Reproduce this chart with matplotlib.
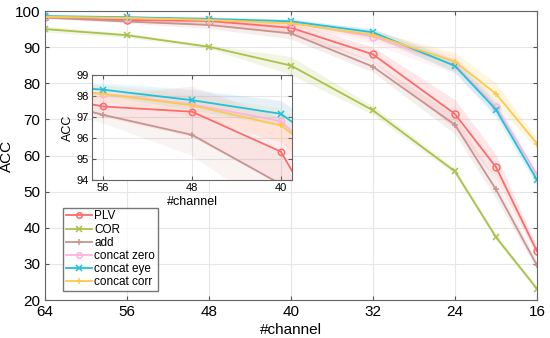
import numpy as np
import matplotlib.pyplot as plt

plt.rcParams['font.family'] = ['Liberation Sans', 'DejaVu Sans']

# data
channels = [64, 56, 48, 40, 32, 24, 20, 16]

plv = [98.3, 97.5, 97.25, 95.35, 88.0, 71.5, 56.8, 33.5]
cor = [95.0, 93.3, 90.1, 84.9, 72.5, 55.6, 37.4, 23.1]
add = [98.2, 97.1, 96.15, 93.8, 84.6, 68.5, 50.6, 29.6]
concat_zero = [98.5, 98.1, 97.6, 96.8, 92.9, 85.1, 73.4, 54.7]
concat_eye = [98.6, 98.3, 97.8, 97.15, 94.1, 84.8, 72.7, 53.3]
concat_corr = [98.4, 98.1, 97.55, 96.6, 93.4, 86.0, 77.1, 63.3]

plv_std = [0.3, 0.5, 1.2, 1.6, 2.0, 4.0, 3.5, 1.2]
cor_std = [0.8, 0.6, 0.5, 2.5, 1.2, 0.8, 0.8, 0.6]
add_std = [0.3, 0.4, 1.0, 1.5, 1.5, 2.5, 2.5, 1.0]
zero_std = [0.3, 0.4, 0.6, 1.0, 2.0, 2.5, 2.0, 1.0]
eye_std = [0.2, 0.3, 0.5, 0.6, 1.0, 1.8, 2.0, 1.5]
corr_std = [0.3, 0.4, 0.5, 0.8, 1.2, 2.5, 3.0, 1.5]

labels = ['PLV', 'COR', 'add', 'concat zero', 'concat eye', 'concat corr']
series = [plv, cor, add, concat_zero, concat_eye, concat_corr]
stds = [plv_std, cor_std, add_std, zero_std, eye_std, corr_std]
colors = ['#FF6A6A', '#A8C24C', '#C9948F', '#FFB2DE', '#1DC3DC', '#FFC94C']
markers = ['o', 'x', '+', 'o', 'x', '+']

fig = plt.figure(figsize=(5.5, 3.38), dpi=100)
ax = fig.add_axes([0.0818, 0.1124, 0.8945, 0.855])
ins = fig.add_axes([0.1673, 0.4675, 0.3636, 0.3107])


def draw(a, ms, alpha):
    x = np.array(channels)
    for y, s, c, m, lab in zip(series, stds, colors, markers, labels):
        y = np.array(y)
        s = np.array(s)
        a.fill_between(x, y - s, y + s, color=c, alpha=alpha, lw=0)
        mfc = 'none' if m == 'o' else c
        a.plot(x, y, color=c, lw=1.3, marker=m, ms=ms, mfc=mfc, mew=1.1, label=lab)
    a.grid(True, color='#e6e6e6', lw=0.8)
    a.set_axisbelow(True)
    a.tick_params(direction='in', top=True, right=True, color='#555555', length=3)
    for sp in a.spines.values():
        sp.set_color('#666666')


draw(ax, 5, 0.16)
ax.set_xlim(64, 16)
ax.set_ylim(20, 100)
ax.set_xticks([64, 56, 48, 40, 32, 24, 16])
ax.set_yticks(range(20, 101, 10))
ax.tick_params(labelsize=11)
ax.set_xlabel('#channel', fontsize=11, labelpad=3)
ax.set_ylabel('ACC', fontsize=11)
ax.yaxis.set_label_coords(-0.063, 0.5)
leg = ax.legend(loc='lower left', bbox_to_anchor=(0.037, 0.03), fontsize=8.5,
                frameon=True, fancybox=False, edgecolor='#555555',
                handlelength=2.2, handletextpad=0.2, borderpad=0.25,
                labelspacing=0.1, borderaxespad=0, markerscale=0.8)

draw(ins, 4.5, 0.11)
ins.set_xlim(57, 39)
ins.set_ylim(94, 99)
ins.set_xticks([56, 48, 40])
ins.set_yticks(range(94, 100))
ins.tick_params(labelsize=8, pad=2)
ins.set_xlabel('#channel', fontsize=9, labelpad=2)
ins.set_ylabel('ACC', fontsize=9, labelpad=2)

fig.savefig('out.png', dpi=100)
